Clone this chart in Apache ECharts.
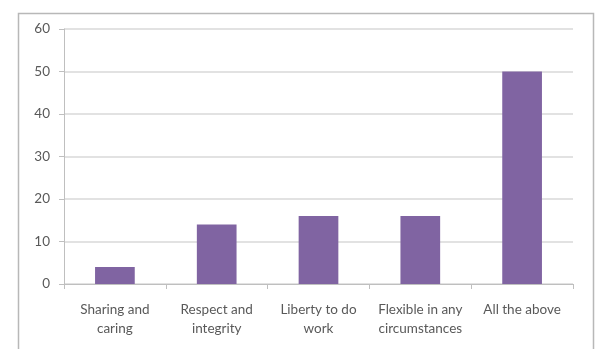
<!DOCTYPE html>
<html>
<head>
<meta charset="utf-8">
<script src="https://cdn.jsdelivr.net/npm/echarts@6/dist/echarts.min.js"></script>
<style>
  html, body { margin: 0; padding: 0; background: #fff; }
  #chart { width: 597px; height: 349px; }
</style>
</head>
<body>
<div id="chart"></div>
<script>
// Survey responses per category
const categories = [
  'Sharing and\ncaring',
  'Respect and\nintegrity',
  'Liberty to do\nwork',
  'Flexible in any\ncircumstances',
  'All the above'
];
const values = [4, 14, 16, 16, 50];
const yTicks = { min: 0, max: 60, interval: 10 };

const textColor = '#595959';
const fontFamily = 'Lato, "Open Sans", sans-serif';

const chart = echarts.init(document.getElementById('chart'), null, { renderer: 'canvas' });
chart.setOption({
  animation: false,
  backgroundColor: '#fff',
  graphic: [{
    type: 'rect',
    left: 16, top: 11,
    shape: { width: 575, height: 360 },
    style: { fill: 'none', stroke: '#b8b8b8', lineWidth: 1.5 },
    silent: true
  }],
  grid: { left: 64, right: 24, top: 29, bottom: 65 },
  xAxis: {
    type: 'category',
    data: categories,
    axisLine: { lineStyle: { color: '#bfbfbf', width: 1 } },
    axisTick: { show: true, alignWithLabel: false, length: 5, lineStyle: { color: '#bfbfbf' } },
    axisLabel: {
      color: textColor, fontSize: 13.5, fontFamily: fontFamily,
      lineHeight: 19, margin: 16, interval: 0
    }
  },
  yAxis: {
    type: 'value',
    min: yTicks.min, max: yTicks.max, interval: yTicks.interval,
    axisLine: { show: true, lineStyle: { color: '#bfbfbf', width: 1 } },
    axisTick: { show: true, length: 5, lineStyle: { color: '#bfbfbf' } },
    axisLabel: { color: textColor, fontSize: 13.5, fontFamily: fontFamily, margin: 14 },
    splitLine: { lineStyle: { color: '#d9d9d9', width: 1.5 } }
  },
  series: [{
    type: 'bar',
    data: values,
    barWidth: '39%',
    itemStyle: { color: '#8064A2' }
  }]
});
</script>
</body>
</html>
